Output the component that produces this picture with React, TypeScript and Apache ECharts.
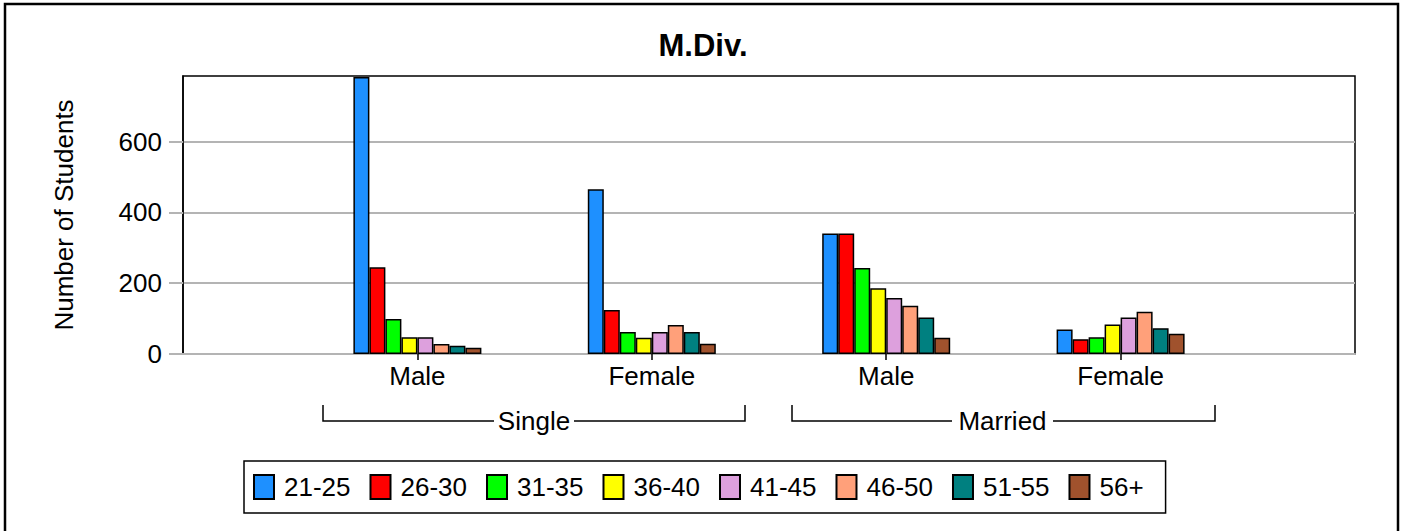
import React, { useEffect, useRef } from "react";
import * as echarts from "echarts";

const categories = ["", "Male", "Female", "Male", "Female", ""];
const ageGroups = ["21-25", "26-30", "31-35", "36-40", "41-45", "46-50", "51-55", "56+"];
const colors = ["#1E90FF", "#FF0000", "#00FF00", "#FFFF00", "#DDA0DD", "#FFA07A", "#008080", "#A0522D"];
// values per age group: [Single Male, Single Female, Married Male, Married Female]
const v2125 = [782, 465, 340, 69];
const v2630 = [245, 124, 340, 42];
const v3135 = [99, 62, 243, 47];
const v3640 = [47, 46, 186, 83];
const v4145 = [47, 62, 158, 103];
const v4650 = [28, 82, 136, 119];
const v5155 = [23, 62, 103, 73];
const v56p = [18, 29, 46, 57];
const seriesValues = [v2125, v2630, v3135, v3640, v4145, v4650, v5155, v56p];
const yTicks = [0, 200, 400, 600];
const groupLabels = ["Single", "Married"];

const FONT = "Liberation Sans, Arial, sans-serif";

export default function App() {
  const ref = useRef<HTMLDivElement>(null);
  useEffect(() => {
    if (!ref.current) return;
    const chart = echarts.init(ref.current, null, { renderer: "svg" });
    const bracket = (x1: number, x2: number, label: string, gapL: number, gapR: number) => [
      {
        type: "polyline",
        shape: { points: [[x1, 405], [x1, 421], [gapL, 421]] },
        style: { stroke: "#000", lineWidth: 1.5, fill: null },
      },
      {
        type: "polyline",
        shape: { points: [[gapR, 421], [x2, 421], [x2, 405]] },
        style: { stroke: "#000", lineWidth: 1.5, fill: null },
      },
      {
        type: "text",
        x: (gapL + gapR) / 2,
        y: 421,
        style: { text: label, fill: "#000", font: `26px ${FONT}`, textAlign: "center", textVerticalAlign: "middle" },
      },
    ];
    chart.setOption({
      animation: false,
      backgroundColor: "#fff",
      title: {
        text: "M.Div.",
        left: "center",
        top: 25,
        textStyle: { fontFamily: FONT, fontSize: 31, fontWeight: "bold", color: "#000" },
      },
      grid: {
        left: 183,
        right: 51,
        top: 76,
        bottom: 177,
        show: true,
        borderColor: "#000",
        borderWidth: 1.5,
        backgroundColor: "transparent",
      },
      legend: {
        data: ageGroups,
        left: 244,
        top: 461,
        width: 915,
        padding: [13, 22, 13, 9],
        itemWidth: 20,
        itemHeight: 24,
        itemGap: 19,
        borderColor: "#000",
        borderWidth: 1.5,
        icon: "rect",
        textStyle: { fontFamily: FONT, fontSize: 26, color: "#000", padding: [0, 0, 0, 5] },
      },
      xAxis: {
        type: "category",
        data: categories,
        boundaryGap: false,
        axisLine: { lineStyle: { color: "#b4b4b4", width: 2 } },
        axisTick: {
          show: true,
          length: 6,
          interval: (i: number) => i >= 1 && i <= 4,
          lineStyle: { color: "#000", width: 1.5 },
        },
        axisLabel: {
          interval: 0,
          margin: 9,
          fontFamily: FONT,
          fontSize: 26,
          color: "#000",
        },
        splitLine: { show: false },
      },
      yAxis: {
        type: "value",
        min: 0,
        max: 785,
        name: "Number of Students",
        nameLocation: "middle",
        nameGap: 106,
        nameTextStyle: { fontFamily: FONT, fontSize: 26, color: "#000" },
        axisLine: { show: true, lineStyle: { color: "#000", width: 1.5 } },
        axisTick: {
          show: true,
          length: 14,
          customValues: yTicks,
          lineStyle: { color: "#b4b4b4", width: 2 },
        },
        axisLabel: {
          customValues: yTicks,
          margin: 21,
          fontFamily: FONT,
          fontSize: 26,
          color: "#000",
        },
        splitLine: { show: true, lineStyle: { color: "#b4b4b4", width: 2 } },
      },
      series: ageGroups.map((name, i) => ({
        name,
        type: "bar",
        barWidth: 16,
        barGap: "0%",
        data: [null, ...seriesValues[i], null],
        itemStyle: { color: colors[i], borderColor: "#000", borderWidth: 1.5 },
      })),
      graphic: [
        {
          type: "rect",
          shape: { x: 5, y: 4, width: 1393, height: 560 },
          style: { fill: null, stroke: "#000", lineWidth: 2.5 },
          silent: true,
        },
        ...bracket(323, 745, groupLabels[0], 494, 574),
        ...bracket(792, 1215, groupLabels[1], 952, 1053),
      ],
    });
    return () => chart.dispose();
  }, []);
  return <div ref={ref} style={{ position: "fixed", left: 0, top: 0, width: 1406, height: 531 }} />;
}
